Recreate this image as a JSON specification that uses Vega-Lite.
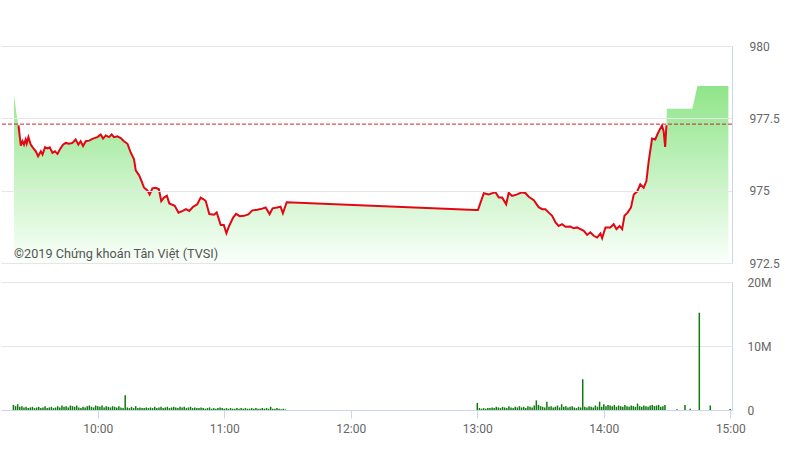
{
  "$schema": "https://vega.github.io/schema/vega-lite/v6.json",
  "background": "white",
  "padding": {"left": 0, "top": 40, "right": 0, "bottom": 0},
  "bounds": "flush",
  "spacing": 19,
  "config": {
    "view": {"stroke": null},
    "font": "Roboto",
    "axis": {"labelFont": "Roboto", "labelFontSize": 12, "labelColor": "#666666", "gridColor": "#e6e6e6", "domainColor": "#ccd6eb", "tickColor": "#ccd6eb"}
  },
  "datasets": {
    "px": [
      {"t":560.3,"a":978.31},{"t":561.6,"a":977.57},
      {"t":562.4,"a":977.26,"l":977.26},{"t":563.5,"a":976.56,"l":976.56},{"t":564.3,"a":976.71,"l":976.71},{"t":565.0,"a":976.59,"l":976.59},
      {"t":565.8,"a":976.77,"l":976.77},{"t":566.3,"a":976.63,"l":976.63},{"t":567.1,"a":976.85,"l":976.85},{"t":568.2,"a":976.59,"l":976.59},
      {"t":569.3,"a":976.48,"l":976.48},{"t":570.6,"a":976.36,"l":976.36},{"t":571.7,"a":976.19,"l":976.19},{"t":573.0,"a":976.36,"l":976.36},
      {"t":573.8,"a":976.25,"l":976.25},{"t":575.0,"a":976.50,"l":976.50},{"t":576.1,"a":976.46,"l":976.46},{"t":577.2,"a":976.50,"l":976.50},
      {"t":578.5,"a":976.31,"l":976.31},{"t":579.7,"a":976.36,"l":976.36},{"t":580.9,"a":976.27,"l":976.27},{"t":582.0,"a":976.42,"l":976.42},
      {"t":583.5,"a":976.59,"l":976.59},{"t":584.8,"a":976.65,"l":976.65},{"t":586.4,"a":976.62,"l":976.62},{"t":588.0,"a":976.65,"l":976.65},
      {"t":589.5,"a":976.77,"l":976.77},{"t":590.8,"a":976.59,"l":976.59},{"t":591.9,"a":976.71,"l":976.71},{"t":593.0,"a":976.54,"l":976.54},
      {"t":594.3,"a":976.71,"l":976.71},{"t":595.9,"a":976.73,"l":976.73},{"t":597.7,"a":976.80,"l":976.80},{"t":599.8,"a":976.85,"l":976.85},
      {"t":601.4,"a":976.94,"l":976.94},{"t":602.5,"a":976.80,"l":976.80},{"t":603.8,"a":976.91,"l":976.91},{"t":605.3,"a":976.85,"l":976.85},
      {"t":606.6,"a":976.94,"l":976.94},{"t":607.7,"a":976.85,"l":976.85},{"t":609.3,"a":976.88,"l":976.88},{"t":610.9,"a":976.82,"l":976.82},
      {"t":612.4,"a":976.71,"l":976.71},{"t":614.1,"a":976.62,"l":976.62},{"t":615.6,"a":976.32,"l":976.32},{"t":617.2,"a":976.08,"l":976.08},
      {"t":618.0,"a":975.70,"l":975.70},{"t":619.6,"a":975.53,"l":975.53},{"t":620.8,"a":975.32,"l":975.32},{"t":621.9,"a":975.11,"l":975.11},
      {"t":623.5,"a":975.01,"l":975.01},{"t":624.6,"a":974.87,"l":974.87},{"t":625.9,"a":975.08,"l":975.08},{"t":627.5,"a":975.10,"l":975.10},
      {"t":629.0,"a":975.05,"l":975.05},{"t":630.1,"a":974.64,"l":974.64},{"t":631.4,"a":974.76,"l":974.76},{"t":632.8,"a":974.82,"l":974.82},
      {"t":633.9,"a":974.56,"l":974.56},{"t":636.5,"a":974.48,"l":974.48},{"t":638.3,"a":974.24,"l":974.24},{"t":640.3,"a":974.30,"l":974.30},
      {"t":641.8,"a":974.36,"l":974.36},{"t":643.4,"a":974.30,"l":974.30},{"t":645.2,"a":974.44,"l":974.44},{"t":647.2,"a":974.53,"l":974.53},
      {"t":648.8,"a":974.76,"l":974.76},{"t":650.2,"a":974.70,"l":974.70},{"t":651.2,"a":974.64,"l":974.64},{"t":652.9,"a":974.19,"l":974.19},
      {"t":655.1,"a":974.17,"l":974.17},{"t":656.4,"a":974.25,"l":974.25},{"t":658.3,"a":973.81,"l":973.81},{"t":659.8,"a":973.81,"l":973.81},
      {"t":661.0,"a":973.53,"l":973.53},{"t":662.3,"a":973.78,"l":973.78},{"t":664.2,"a":974.07,"l":974.07},{"t":665.6,"a":974.20,"l":974.20},
      {"t":667.3,"a":974.12,"l":974.12},{"t":669.3,"a":974.13,"l":974.13},{"t":671.4,"a":974.18,"l":974.18},{"t":673.3,"a":974.32,"l":974.32},
      {"t":675.7,"a":974.34,"l":974.34},{"t":678.0,"a":974.38,"l":974.38},{"t":679.6,"a":974.42,"l":974.42},{"t":681.5,"a":974.19,"l":974.19},
      {"t":682.9,"a":974.39,"l":974.39},{"t":685.1,"a":974.42,"l":974.42},{"t":686.7,"a":974.45,"l":974.45},{"t":687.8,"a":974.22,"l":974.22},
      {"t":689.6,"a":974.60,"l":974.60},{"t":779.1,"a":974.33,"l":974.33},{"t":780.3,"a":974.33,"l":974.33},{"t":783.1,"a":974.91,"l":974.91},
      {"t":785.4,"a":974.87,"l":974.87},{"t":788.6,"a":974.95,"l":974.95},{"t":790.2,"a":974.76,"l":974.76},{"t":791.8,"a":974.76,"l":974.76},
      {"t":793.7,"a":974.53,"l":974.53},{"t":794.9,"a":974.93,"l":974.93},{"t":796.5,"a":974.82,"l":974.82},{"t":798.9,"a":974.87,"l":974.87},
      {"t":801.1,"a":974.94,"l":974.94},{"t":802.8,"a":974.92,"l":974.92},{"t":804.4,"a":974.79,"l":974.79},{"t":806.8,"a":974.67,"l":974.67},
      {"t":809.1,"a":974.43,"l":974.43},{"t":810.8,"a":974.36,"l":974.36},{"t":812.3,"a":974.36,"l":974.36},{"t":813.9,"a":974.24,"l":974.24},
      {"t":815.5,"a":974.13,"l":974.13},{"t":817.1,"a":973.90,"l":973.90},{"t":818.6,"a":973.78,"l":973.78},{"t":820.2,"a":973.84,"l":973.84},
      {"t":821.8,"a":973.75,"l":973.75},{"t":824.2,"a":973.76,"l":973.76},{"t":825.7,"a":973.70,"l":973.70},{"t":827.3,"a":973.73,"l":973.73},
      {"t":828.9,"a":973.67,"l":973.67},{"t":830.5,"a":973.61,"l":973.61},{"t":832.1,"a":973.47,"l":973.47},{"t":833.6,"a":973.56,"l":973.56},
      {"t":835.2,"a":973.44,"l":973.44},{"t":836.8,"a":973.38,"l":973.38},{"t":838.4,"a":973.52,"l":973.52},{"t":839.2,"a":973.36,"l":973.36},
      {"t":840.8,"a":973.73,"l":973.73},{"t":843.1,"a":973.73,"l":973.73},{"t":844.7,"a":973.84,"l":973.84},{"t":846.0,"a":973.67,"l":973.67},
      {"t":847.5,"a":973.78,"l":973.78},{"t":848.7,"a":973.67,"l":973.67},{"t":849.8,"a":974.13,"l":974.13},{"t":851.3,"a":974.24,"l":974.24},
      {"t":852.9,"a":974.42,"l":974.42},{"t":854.2,"a":974.87,"l":974.87},{"t":855.8,"a":974.97,"l":974.97},{"t":857.3,"a":975.22,"l":975.22},
      {"t":858.9,"a":975.10,"l":975.10},{"t":860.2,"a":975.33,"l":975.33},{"t":861.3,"a":976.02,"l":976.02},{"t":862.9,"a":976.80,"l":976.80},
      {"t":864.4,"a":976.77,"l":976.77},{"t":865.5,"a":976.96,"l":976.96},{"t":866.5,"a":977.11,"l":977.11},{"t":867.6,"a":977.25,"l":977.25},
      {"t":868.4,"a":977.05,"l":977.05},{"t":869.1,"a":976.51,"l":976.51},{"t":869.7,"a":977.26,"l":977.26},
      {"t":869.9,"a":977.83},{"t":882.0,"a":977.83},{"t":884.4,"a":978.62},{"t":899.1,"a":978.62}
    ],
    "vol": [
      {"t":560,"v":0.8},{"t":561,"v":0.6},{"t":562,"v":0.9},{"t":563,"v":0.5},{"t":564,"v":0.6},{"t":565,"v":0.4},{"t":566,"v":0.5},{"t":567,"v":0.3},{"t":568,"v":0.4},{"t":569,"v":0.5},
      {"t":570,"v":0.3},{"t":571,"v":0.4},{"t":572,"v":0.5},{"t":573,"v":0.3},{"t":574,"v":0.4},{"t":575,"v":0.6},{"t":576,"v":0.3},{"t":577,"v":0.4},{"t":578,"v":0.5},{"t":579,"v":0.3},
      {"t":580,"v":0.4},{"t":581,"v":0.6},{"t":582,"v":0.4},{"t":583,"v":0.7},{"t":584,"v":0.5},{"t":585,"v":0.6},{"t":586,"v":0.4},{"t":587,"v":0.7},{"t":588,"v":0.6},{"t":589,"v":0.5},
      {"t":590,"v":0.7},{"t":591,"v":0.4},{"t":592,"v":0.3},{"t":593,"v":0.5},{"t":594,"v":0.4},{"t":595,"v":0.6},{"t":596,"v":0.7},{"t":597,"v":0.5},{"t":598,"v":0.4},{"t":599,"v":0.7},
      {"t":600,"v":0.6},{"t":601,"v":0.5},{"t":602,"v":0.7},{"t":603,"v":0.4},{"t":604,"v":0.6},{"t":605,"v":0.5},{"t":606,"v":0.4},{"t":607,"v":0.6},{"t":608,"v":0.5},{"t":609,"v":0.4},
      {"t":610,"v":0.6},{"t":611,"v":0.4},{"t":612,"v":0.3},{"t":613,"v":2.3},{"t":614,"v":0.4},{"t":615,"v":0.3},{"t":616,"v":0.5},{"t":617,"v":0.3},{"t":618,"v":0.6},{"t":619,"v":0.3},
      {"t":620,"v":0.4},{"t":621,"v":0.3},{"t":622,"v":0.3},{"t":623,"v":0.4},{"t":624,"v":0.3},{"t":625,"v":0.4},{"t":626,"v":0.3},{"t":627,"v":0.5},{"t":628,"v":0.3},{"t":629,"v":0.4},
      {"t":630,"v":0.5},{"t":631,"v":0.3},{"t":632,"v":0.4},{"t":633,"v":0.5},{"t":634,"v":0.3},{"t":635,"v":0.4},{"t":636,"v":0.5},{"t":637,"v":0.4},{"t":638,"v":0.3},{"t":639,"v":0.5},
      {"t":640,"v":0.4},{"t":641,"v":0.5},{"t":642,"v":0.3},{"t":643,"v":0.4},{"t":644,"v":0.5},{"t":645,"v":0.3},{"t":646,"v":0.4},{"t":647,"v":0.3},{"t":648,"v":0.3},{"t":649,"v":0.4},
      {"t":650,"v":0.3},{"t":651,"v":0.2},{"t":652,"v":0.3},{"t":653,"v":0.4},{"t":654,"v":0.2},{"t":655,"v":0.3},{"t":656,"v":0.2},{"t":657,"v":0.3},{"t":658,"v":0.4},{"t":659,"v":0.3},
      {"t":660,"v":0.2},{"t":661,"v":0.3},{"t":662,"v":0.2},{"t":663,"v":0.3},{"t":664,"v":0.2},{"t":665,"v":0.2},{"t":666,"v":0.3},{"t":667,"v":0.2},{"t":668,"v":0.3},{"t":669,"v":0.2},
      {"t":670,"v":0.3},{"t":671,"v":0.2},{"t":672,"v":0.2},{"t":673,"v":0.3},{"t":674,"v":0.2},{"t":675,"v":0.3},{"t":676,"v":0.2},{"t":677,"v":0.2},{"t":678,"v":0.3},{"t":679,"v":0.2},
      {"t":680,"v":0.3},{"t":681,"v":0.2},{"t":682,"v":0.5},{"t":683,"v":0.2},{"t":684,"v":0.2},{"t":685,"v":0.3},{"t":686,"v":0.2},{"t":687,"v":0.1},{"t":688,"v":0.2},{"t":689,"v":0.1},
      {"t":780,"v":1.1},{"t":781,"v":0.3},{"t":782,"v":0.2},{"t":783,"v":0.3},{"t":784,"v":0.2},{"t":785,"v":0.3},{"t":786,"v":0.3},{"t":787,"v":0.4},{"t":788,"v":0.3},{"t":789,"v":0.5},
      {"t":790,"v":0.4},{"t":791,"v":0.3},{"t":792,"v":0.5},{"t":793,"v":0.4},{"t":794,"v":0.3},{"t":795,"v":0.6},{"t":796,"v":0.4},{"t":797,"v":0.3},{"t":798,"v":0.5},{"t":799,"v":0.4},
      {"t":800,"v":0.6},{"t":801,"v":0.4},{"t":802,"v":0.5},{"t":803,"v":0.3},{"t":804,"v":0.6},{"t":805,"v":0.5},{"t":806,"v":0.4},{"t":807,"v":0.7},{"t":808,"v":1.5},{"t":809,"v":0.8},
      {"t":810,"v":0.6},{"t":811,"v":0.5},{"t":812,"v":0.4},{"t":813,"v":1.3},{"t":814,"v":0.5},{"t":815,"v":0.6},{"t":816,"v":0.4},{"t":817,"v":0.5},{"t":818,"v":0.7},{"t":819,"v":0.4},
      {"t":820,"v":0.9},{"t":821,"v":0.5},{"t":822,"v":0.6},{"t":823,"v":0.4},{"t":824,"v":0.5},{"t":825,"v":0.6},{"t":826,"v":0.4},{"t":827,"v":0.3},{"t":828,"v":0.5},{"t":829,"v":0.4},
      {"t":830,"v":4.8},{"t":831,"v":0.5},{"t":832,"v":0.4},{"t":833,"v":0.6},{"t":834,"v":0.5},{"t":835,"v":0.4},{"t":836,"v":0.7},{"t":837,"v":0.5},{"t":838,"v":1.3},{"t":839,"v":0.5},
      {"t":840,"v":0.9},{"t":841,"v":0.6},{"t":842,"v":0.8},{"t":843,"v":0.7},{"t":844,"v":0.6},{"t":845,"v":0.8},{"t":846,"v":0.5},{"t":847,"v":0.7},{"t":848,"v":0.6},{"t":849,"v":0.5},
      {"t":850,"v":0.8},{"t":851,"v":0.6},{"t":852,"v":0.5},{"t":853,"v":0.7},{"t":854,"v":0.6},{"t":855,"v":0.5},{"t":856,"v":1.0},{"t":857,"v":0.6},{"t":858,"v":0.5},{"t":859,"v":0.7},
      {"t":860,"v":0.6},{"t":861,"v":0.5},{"t":862,"v":0.7},{"t":863,"v":0.8},{"t":864,"v":0.6},{"t":865,"v":0.7},{"t":866,"v":0.8},{"t":867,"v":0.5},{"t":868,"v":0.6},{"t":869,"v":0.8},
      {"t":874.7,"v":0.1},{"t":878.5,"v":0.8},{"t":881,"v":0.2},{"t":885.3,"v":15.2},{"t":890.5,"v":0.7},{"t":899.9,"v":0.15}
    ]
  },
  "vconcat": [
    {
      "width": 731,
      "height": 217,
      "layer": [
        {
          "data": {"name": "px"},
          "mark": {"type": "area", "color": {"gradient": "linear", "x1": 0, "y1": 0, "x2": 0, "y2": 1, "stops": [{"offset": 0, "color": "#8fe589"}, {"offset": 1, "color": "#fafffa"}]}},
          "encoding": {
            "x": {"field": "t", "type": "quantitative", "scale": {"domain": [554.1, 900.8], "nice": false, "zero": false}, "axis": null},
            "y": {"field": "a", "type": "quantitative", "scale": {"domain": [972.5, 980], "nice": false, "zero": false},
                  "axis": {"orient": "right", "values": [972.5, 975, 977.5, 980], "format": ".1~f", "ticks": false, "labelPadding": 17, "grid": true, "domain": true, "title": null, "zindex": 1}},
            "y2": {"datum": 972.5}
          }
        },
        {
          "data": {"values": [{}]},
          "mark": {"type": "rule", "color": "#c62828", "strokeDash": [4, 2], "strokeWidth": 1},
          "encoding": {"y": {"datum": 977.3}}
        },
        {
          "data": {"name": "px"},
          "transform": [{"filter": "isValid(datum.l)"}],
          "mark": {"type": "line", "color": "#e30613", "strokeWidth": 2},
          "encoding": {
            "x": {"field": "t", "type": "quantitative"},
            "y": {"field": "l", "type": "quantitative"}
          }
        },
        {
          "data": {"values": [{}]},
          "mark": {"type": "text", "text": "©2019 Chứng khoán Tân Việt (TVSI)", "align": "left", "baseline": "middle", "fontSize": 12.7, "color": "#555555", "font": "Roboto"},
          "encoding": {"x": {"datum": 560.3}, "y": {"datum": 972.8}}
        }
      ]
    },
    {
      "width": 731,
      "height": 128,
      "data": {"name": "vol"},
      "mark": {"type": "rule", "color": "#0d7a0d", "strokeWidth": 1.5},
      "encoding": {
        "x": {"field": "t", "type": "quantitative", "scale": {"domain": [554.1, 900.8], "nice": false, "zero": false},
              "axis": {"values": [600, 660, 720, 780, 840, 900], "labelExpr": "floor(datum.value/60) + ':00'", "tickSize": 8, "labelPadding": 5, "grid": false, "domain": true, "title": null, "labelFlush": false}},
        "y": {"field": "v", "type": "quantitative", "scale": {"domain": [0, 20], "nice": false},
              "axis": {"orient": "right", "values": [0, 10, 20], "labelExpr": "datum.value == 0 ? '0' : datum.value + 'M'", "ticks": false, "labelPadding": 15, "grid": true, "title": null}},
        "y2": {"datum": 0}
      }
    }
  ]
}
